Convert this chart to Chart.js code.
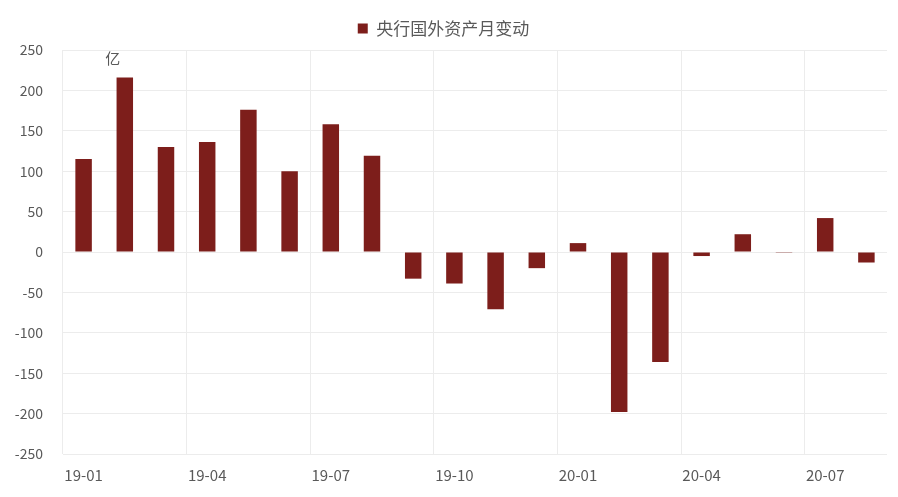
<!DOCTYPE html>
<html>
<head>
<meta charset="utf-8">
<script src="https://cdn.jsdelivr.net/npm/chart.js@4.4.1/dist/chart.umd.min.js"></script>
<style>
html,body{margin:0;padding:0;background:#fff;}
#wrap{width:898px;height:497px;position:relative;}
</style>
</head>
<body>
<div id="wrap"><canvas id="c" width="898" height="497"></canvas></div>
<script>
const categories = ['19-01','19-02','19-03','19-04','19-05','19-06','19-07','19-08','19-09','19-10','19-11','19-12','20-01','20-02','20-03','20-04','20-05','20-06','20-07','20-08'];
const seriesName = '央行国外资产月变动';
const seriesValues = [115, 216, 130, 136, 176, 100, 158, 119, -33, -39, -71, -20, 11, -198, -136, -5, 22, -1, 42, -13];
const unitLabel = '亿';

const FONT = '"Noto Sans CJK SC", "Noto Sans", sans-serif';
const TEXT = '#595959';
const GRID = '#ececec';

const unitPlugin = {
  id: 'unitLabel',
  afterDraw(chart) {
    const ctx = chart.ctx;
    const x = chart.scales.x;
    const y = chart.scales.y;
    ctx.save();
    ctx.font = '15px ' + FONT;
    ctx.fillStyle = TEXT;
    ctx.textAlign = 'center';
    ctx.textBaseline = 'middle';
    ctx.fillText(unitLabel, x.getPixelForValue(1) - 12, y.getPixelForValue(240));
    ctx.restore();
  }
};

const legendMargin = {
  id: 'legendMargin',
  beforeInit(chart) {
    const origFit = chart.legend.fit;
    chart.legend.fit = function () {
      origFit.call(this);
      this.height += 3;
    };
  }
};

new Chart(document.getElementById('c'), {
  type: 'bar',
  data: {
    labels: categories,
    datasets: [{
      label: seriesName,
      data: seriesValues,
      backgroundColor: '#7d1e1b',
      borderWidth: 0,
      barPercentage: 0.4,
      categoryPercentage: 1.0
    }]
  },
  options: {
    responsive: false,
    animation: false,
    devicePixelRatio: 1,
    layout: { padding: { top: 6, right: 11, left: 0, bottom: 0 } },
    plugins: {
      legend: {
        position: 'top',
        labels: {
          font: { family: FONT, size: 17 },
          color: TEXT,
          boxWidth: 10,
          boxHeight: 10,
          padding: 14
        }
      },
      tooltip: { enabled: false }
    },
    scales: {
      x: {
        offset: true,
        grid: {
          offset: true,
          drawTicks: false,
          color: (ctx) => (ctx.index % 3 === 0 ? GRID : 'rgba(0,0,0,0)')
        },
        border: { display: false },
        ticks: {
          autoSkip: false,
          maxRotation: 0,
          padding: 12,
          color: TEXT,
          font: { family: FONT, size: 15 },
          callback: function (val, i) { return i % 3 === 0 ? categories[i] : ''; }
        },
        afterFit: (s) => { s.height = 43; }
      },
      y: {
        min: -250,
        max: 250,
        grid: { color: GRID, drawTicks: false },
        border: { display: false },
        ticks: {
          stepSize: 50,
          padding: 20,
          color: TEXT,
          font: { family: FONT, size: 14 }
        },
        afterFit: (s) => { s.width = 63; }
      }
    }
  },
  plugins: [unitPlugin, legendMargin]
});
</script>
</body>
</html>
